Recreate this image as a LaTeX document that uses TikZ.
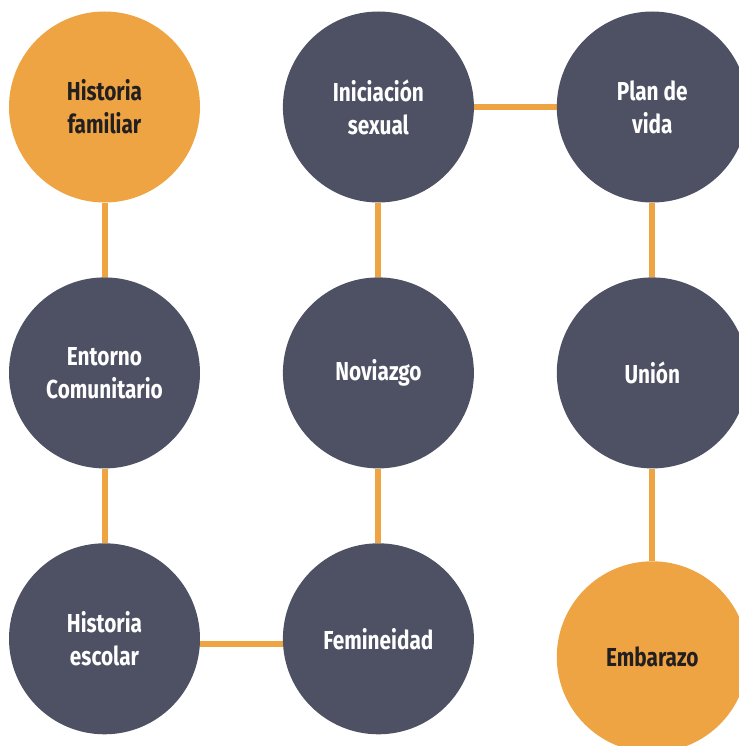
\documentclass[tikz,border=0pt]{standalone}
\usepackage{fontspec}
\setmainfont{Fira Sans}[FakeStretch=0.8]
\usetikzlibrary{positioning,backgrounds}
\definecolor{slate}{HTML}{4D5163}
\definecolor{amber}{HTML}{EEA443}
\definecolor{ink}{HTML}{231F20}
\tikzset{
  stage/.style={circle, fill=slate, text=white, minimum size=191pt, inner sep=0pt,
    align=center, font=\fontsize{26}{33}\selectfont\bfseries},
  keystage/.style={stage, fill=amber, text=ink},
  link/.style={draw=amber, line width=6pt},
}
\begin{document}
\begin{tikzpicture}[node distance=74.5pt and 82.5pt]
  \useasboundingbox (0,0) rectangle (738pt,-746pt);
  \node [keystage] (familia) at (104.5pt,-107pt) {Historia\\familiar};
  \node [stage, below=of familia] (entorno) {Entorno\\Comunitario};
  \node [stage, below=of entorno] (escolar) {Historia\\escolar};
  \node [stage, right=of escolar] (femineidad) {Femineidad};
  \node [stage, above=of femineidad] (noviazgo) {Noviazgo};
  \node [stage, above=of noviazgo] (iniciacion) {Iniciación\\sexual};
  \node [stage, right=of iniciacion] (plan) {Plan de\\vida};
  \node [stage, below=of plan] (union) {Unión};
  \node [keystage, below=92.5pt of union] (embarazo) {Embarazo};

  \begin{scope}[on background layer]
    \draw [link] (familia) -- (entorno) -- (escolar);
    \draw [link] ([yshift=-5pt]escolar.center) -- ([yshift=-5pt]femineidad.center);
    \draw [link] (femineidad) -- (noviazgo) -- (iniciacion) -- (plan);
    \draw [link] (plan) -- (union) -- (embarazo);
  \end{scope}
\end{tikzpicture}
\end{document}
